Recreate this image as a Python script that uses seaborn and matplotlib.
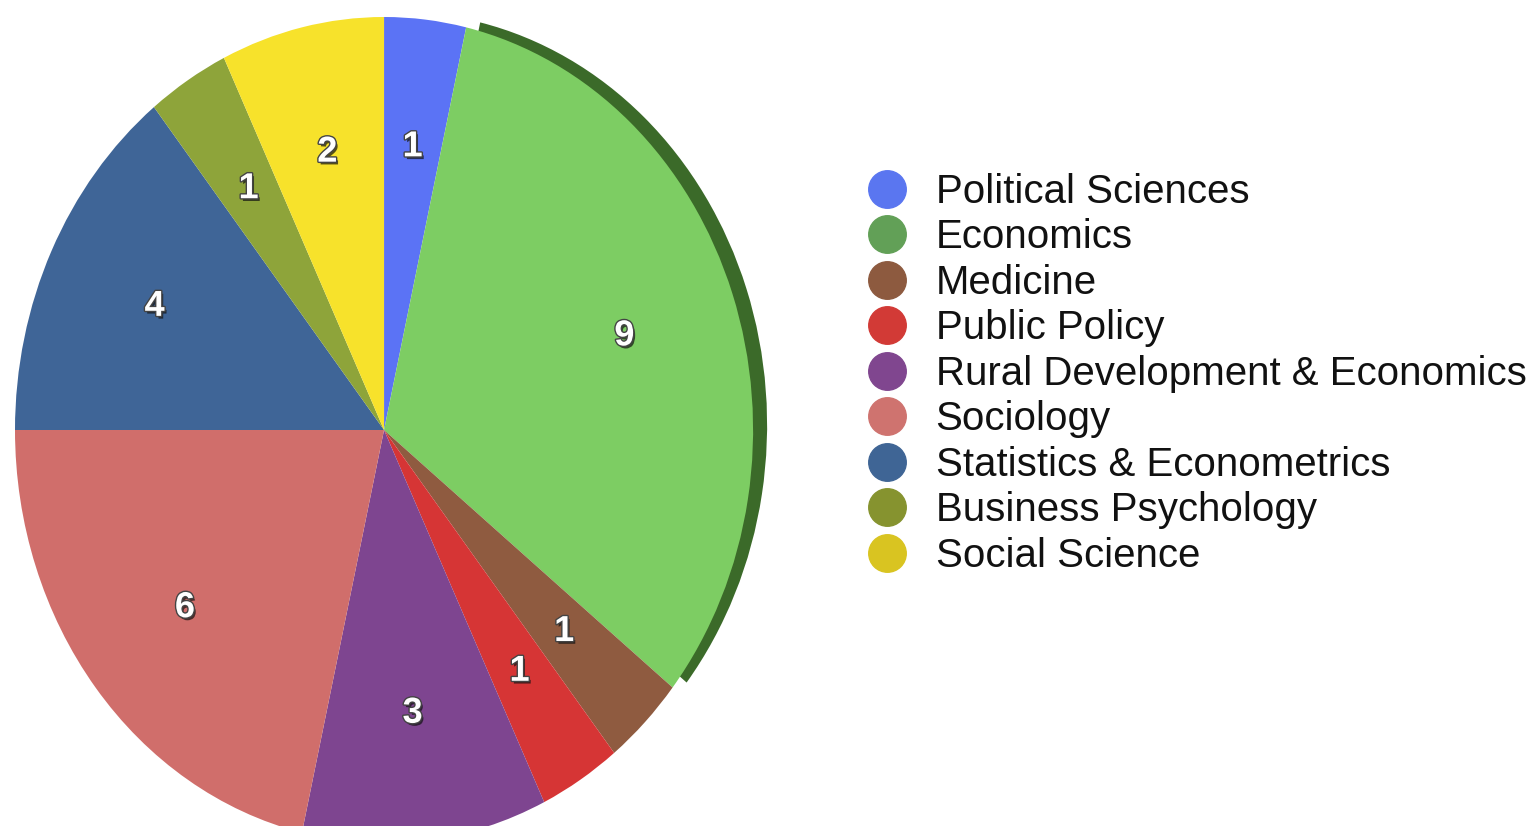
import matplotlib
matplotlib.use("Agg")
from matplotlib import pyplot as plt
from matplotlib.lines import Line2D
import matplotlib.patheffects as pe
import seaborn as sns

# fields and number of papers, clockwise from the top
fields = ["Political Sciences", "Economics", "Medicine", "Public Policy",
          "Rural Development & Economics", "Sociology",
          "Statistics & Econometrics", "Business Psychology", "Social Science"]
counts = [1, 9, 1, 1, 3, 6, 4, 1, 2]

pie_colors = ["#5b73f5", "#7dcd63", "#8f5b40", "#d63535", "#7e4590",
              "#d06e6b", "#3f6597", "#8ea43a", "#f7e22b"]
legend_colors = ["#5a76f0", "#62a057", "#8d5a3f", "#d23a36", "#80468f",
                 "#cf736f", "#3f6595", "#86932f", "#d9c421"]

sns.set_theme(style="white")
plt.rcParams['font.family'] = ['Liberation Sans', 'DejaVu Sans']

fig = plt.figure(figsize=(15.28, 8.26), dpi=100)
# pie centre at about (383, 430) px, slightly taller than wide
ax = fig.add_axes([15 / 1528, -17 / 826, 775 / 1528, 826 / 826])

total = sum(counts)

# dark rim behind the economics slice (3D side)
shadow_colors = ["none"] * len(counts)
shadow_colors[1] = "#3b6a29"
ax.pie(counts, colors=shadow_colors, startangle=90, counterclock=False,
       center=(0.038, 0.012), wedgeprops=dict(linewidth=0))

wedges, texts, autotexts = ax.pie(
    counts, colors=pie_colors, startangle=90, counterclock=False,
    autopct=lambda p: f"{round(p * total / 100)}", pctdistance=0.69,
    wedgeprops=dict(linewidth=0))

for t in autotexts:
    t.set(color="white", fontsize=26, fontweight="bold")
    t.set_path_effects([
        pe.SimplePatchShadow(offset=(1.5, -2), shadow_rgbFace="#111111", alpha=0.7),
        pe.withStroke(linewidth=2, foreground="#444444")])

ax.set_aspect("auto")
ax.set_xlim(-1.0, 1.1)
ax.set_ylim(-1.0, 1.0)
ax.axis("off")

handles = [Line2D([], [], marker="o", linestyle="none", markersize=27,
                  markerfacecolor=c, markeredgecolor=c) for c in legend_colors]
fig.legend(handles, fields, loc="upper left",
           bbox_to_anchor=(863 / 1528, 1 - 173 / 826),
           frameon=False, fontsize=29, labelspacing=0.185,
           handletextpad=0.6, handlelength=1.2, borderaxespad=0,
           borderpad=0, labelcolor="#111111")

fig.savefig("out.png", dpi=100)
plt.close()
